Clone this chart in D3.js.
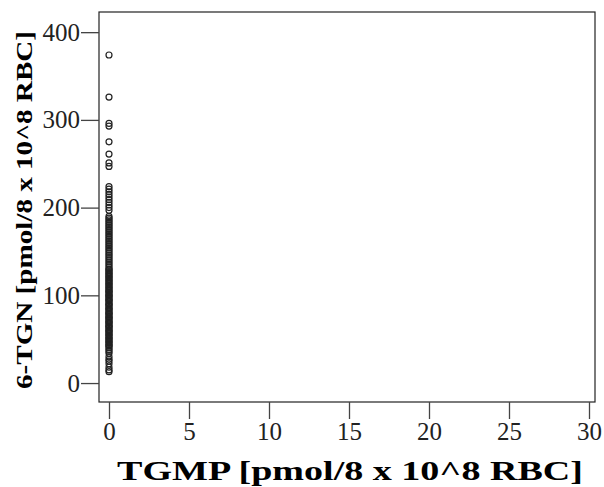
<!DOCTYPE html>
<html>
<head>
<meta charset="utf-8">
<script src="https://cdn.jsdelivr.net/npm/d3@7"></script>
<style>
  body { margin: 0; background: #fff; }
  svg text { font-family: "Liberation Serif", "Times New Roman", Times, serif; }
  .tick text { font-size: 25px; }
</style>
</head>
<body>
<script>
// TGMP values (all zero in the reference) and matching 6-TGN values
var tgn = [374, 326, 296, 293, 275, 261, 251, 247, 224, 221, 218, 215, 212, 209, 206, 203,
  200, 197, 190, 188, 186, 184, 182, 180, 178, 176, 174, 172, 170, 168, 166, 164, 162,
  160, 158, 156, 154, 152, 150, 148, 146, 144, 142, 140, 138, 136, 134, 132, 130, 129,
  128, 126, 125, 124, 122, 121, 120, 118, 117, 116, 114, 113, 112, 110, 109, 108, 106,
  105, 104, 103, 101, 100, 99, 98, 96, 95, 94, 93, 91, 90, 89, 88, 86, 85, 84, 83, 81,
  80, 79, 78, 76, 75, 74, 73, 71, 70, 69, 68, 66, 65, 64, 63, 61, 60, 59, 58, 56, 55,
  54, 52, 51, 50, 48, 47, 46, 44, 43, 42, 40, 38, 36, 34, 30, 27, 25, 22, 18, 15, 13];
var tgmp = tgn.map(function() { return 0; });

var xTicks = [0, 5, 10, 15, 20, 25, 30];
var yTicks = [0, 100, 200, 300, 400];

var xTitle = "TGMP [pmol/8 x 10^8 RBC]";
var yTitle = "6-TGN [pmol/8 x 10^8 RBC]";

d3.select("body").append("svg")
  .attr("width", 604)
  .attr("height", 487);

var svg = d3.select("svg");

var frame = { left: 99, top: 12, right: 595, bottom: 402 };

var xScale = d3.scaleLinear().domain([-0.625, 30.375]).range([frame.left, frame.right]);
var yScale = d3.scaleLinear().domain([-21.6, 423]).range([frame.bottom, frame.top]);

// plot frame
svg.append("rect")
  .attr("x", frame.left)
  .attr("y", frame.top)
  .attr("width", frame.right - frame.left)
  .attr("height", frame.bottom - frame.top)
  .attr("fill", "none")
  .attr("stroke", "#222")
  .attr("stroke-width", 1.2);

var xAxis = svg.append("g")
  .attr("transform", "translate(0," + frame.bottom + ")")
  .call(d3.axisBottom(xScale).tickValues(xTicks).tickSize(17).tickSizeOuter(0).tickPadding(3));

var yAxis = svg.append("g")
  .attr("transform", "translate(" + frame.left + ",0)")
  .call(d3.axisLeft(yScale).tickValues(yTicks).tickSize(18).tickSizeOuter(0).tickPadding(1));

[xAxis, yAxis].forEach(function(ax) {
  ax.attr("font-family", null).attr("font-size", 25);
  ax.select(".domain").remove();
  ax.selectAll(".tick line").attr("stroke", "#444").attr("stroke-width", 1.3);
  ax.selectAll(".tick text")
    .attr("fill", "#222")
    .attr("font-size", 25);
});

svg.append("g")
  .selectAll("circle")
  .data(tgn)
  .enter().append("circle")
  .attr("cx", function(d, i) { return xScale(tgmp[i]); })
  .attr("cy", function(d) { return yScale(d); })
  .attr("r", 3)
  .attr("fill", "none")
  .attr("stroke", "#222")
  .attr("stroke-width", 1.2);

svg.append("text")
  .attr("x", 350)
  .attr("y", 480)
  .attr("text-anchor", "middle")
  .attr("textLength", 466)
  .attr("lengthAdjust", "spacingAndGlyphs")
  .attr("font-size", 27)
  .attr("font-weight", "bold")
  .text(xTitle);

svg.append("text")
  .attr("transform", "translate(32,210) rotate(-90)")
  .attr("text-anchor", "middle")
  .attr("textLength", 358)
  .attr("lengthAdjust", "spacingAndGlyphs")
  .attr("font-size", 24)
  .attr("font-weight", "bold")
  .text(yTitle);
</script>
</body>
</html>
